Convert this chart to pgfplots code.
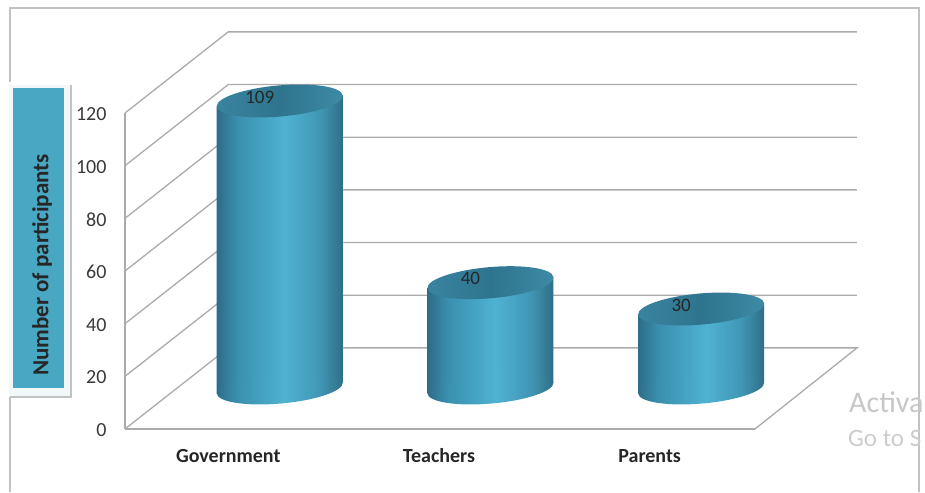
\documentclass[border=0pt]{standalone}
\usepackage{pgfplots}
\usepackage{pgfplotstable}
\usepackage{fontspec}
\setmainfont{Carlito}
\pgfplotsset{compat=1.18}

\definecolor{gridgray}{HTML}{ABABAB}
\definecolor{framegray}{HTML}{C2C2C2}
\definecolor{boxteal}{HTML}{48A8C4}
\definecolor{boxhalo}{HTML}{F2F8FA}
\definecolor{ticktext}{HTML}{3A3A3A}
\definecolor{sideA}{HTML}{2D6C88}
\definecolor{sideB}{HTML}{3A8FAE}
\definecolor{sideC}{HTML}{4FB2D1}
\definecolor{sideD}{HTML}{4096B4}
\definecolor{sideE}{HTML}{2F6E86}
\definecolor{lidA}{HTML}{3A84A0}
\definecolor{lidB}{HTML}{2E748E}
\definecolor{lidC}{HTML}{3E8AA5}

% colour stops sit between 25bp and 75bp, that part is fitted to the path
\pgfdeclarehorizontalshading{cylside}{100bp}{
  color(0bp)=(sideA);
  color(25bp)=(sideA);
  color(33bp)=(sideB);
  color(52bp)=(sideC);
  color(66bp)=(sideD);
  color(75bp)=(sideE);
  color(100bp)=(sideE)}
\pgfdeclarehorizontalshading{cyltop}{100bp}{
  color(0bp)=(lidA);
  color(25bp)=(lidA);
  color(50bp)=(lidB);
  color(75bp)=(lidC);
  color(100bp)=(lidC)}

\pgfdeclareplotmark{cylbase}{
  \pgfpathellipse{\pgfpointorigin}{\pgfqpoint{63pt}{5.5pt}}{\pgfqpoint{-1.3pt}{15.5pt}}
  \pgfshadepath{cylside}{0}
  \pgfusepath{discard}}
\pgfdeclareplotmark{cyllid}{
  \pgfpathellipse{\pgfpointorigin}{\pgfqpoint{63pt}{5.5pt}}{\pgfqpoint{-1.3pt}{15.5pt}}
  \pgfshadepath{cyltop}{0}
  \pgfusepath{discard}}

\pgfplotstableread{
cat val
0 109
1 40
2 30
}\participants

% one bar of a cylinder, slanted like the ellipses; #1 undoes the slant at its x
\pgfplotsset{cylbody/.style={ybar, bar width=126pt, bar shift=0pt, draw=none,
    shade, shading=cylside, yshift=#1, yslant=0.0873}}

\begin{document}
\begin{tikzpicture}
  \path[use as bounding box, clip] (0pt,0pt) rectangle (925pt,492pt);
  \fill[white] (0pt,0pt) rectangle (925pt,492pt);

  % page frame, left side is broken by the label box
  \draw[framegray, line width=1.5pt] (10pt,410pt) -- (10pt,484pt) -- (919pt,484pt) -- (919pt,0pt);
  \draw[framegray, line width=1.5pt] (10pt,95pt) -- (10pt,0pt);

  % label box
  \fill[boxhalo] (9pt,95pt) rectangle (71pt,407pt);
  \draw[framegray, line width=1.2pt] (10pt,95pt) -- (71pt,95pt) -- (71pt,407pt);
  \fill[boxteal] (13pt,104pt) rectangle (64pt,404pt);
  \node[rotate=90, font=\bfseries\fontsize{23}{26}\selectfont, text=black!85] at (42pt,227pt) {Number of participants};

  % front plane of the chart
  \begin{axis}[
      name=front,
      at={(125pt,63pt)}, anchor=south west,
      scale only axis,
      width=630pt, height=316pt,
      xmin=-0.49, xmax=2.5,
      ymin=0, ymax=120,
      clip=false,
      axis x line*=bottom,
      axis y line*=left,
      axis line style={gridgray, line width=1.5pt, -},
      major tick length=0pt,
      xtick={0,1,2},
      xticklabels={Government,Teachers,Parents},
      ytick={0,20,40,60,80,100,120},
      /pgf/number format/assume math mode=true,
      xticklabel style={font=\bfseries\fontsize{20}{24}\selectfont, text=black!85, anchor=center, yshift=-27pt},
      yticklabel style={font=\fontsize{20}{24}\selectfont, text=ticktext, anchor=east, xshift=-15pt, yshift=-1pt},
    ]
    % side wall and back wall
    \addplot[gridgray, line width=1.3pt] coordinates {(-0.49,0) (0,30.8) (2.984,30.8) (2.5,0)};
    \addplot[gridgray, line width=1.3pt] coordinates {(-0.49,20) (0,50.8) (2.984,50.8)};
    \addplot[gridgray, line width=1.3pt] coordinates {(-0.49,40) (0,70.8) (2.984,70.8)};
    \addplot[gridgray, line width=1.3pt] coordinates {(-0.49,60) (0,90.8) (2.984,90.8)};
    \addplot[gridgray, line width=1.3pt] coordinates {(-0.49,80) (0,110.8) (2.984,110.8)};
    \addplot[gridgray, line width=1.3pt] coordinates {(-0.49,100) (0,130.8) (2.984,130.8)};
    \addplot[gridgray, line width=1.3pt] coordinates {(-0.49,120) (0,150.8) (2.984,150.8)};
  \end{axis}

  % cylinders stand half way into the depth
  \begin{axis}[
      at={(176.5pt,104pt)}, anchor=south west,
      scale only axis,
      width=630pt, height=316pt,
      xmin=-0.49, xmax=2.5,
      ymin=0, ymax=120,
      clip=false,
      hide axis,
      /pgf/number format/assume math mode=true,
    ]
    % each bar on its own, else the shading runs over all three
    \addplot[cylbody=-9.0pt] coordinates {(0,109)};
    \addplot[cylbody=-27.4pt] coordinates {(1,40)};
    \addplot[cylbody=-45.8pt] coordinates {(2,30)};
    \addplot[only marks, mark=cylbase] table[x=cat, y expr=0] {\participants};
    \addplot[only marks, mark=cyllid,
      nodes near coords,
      point meta=y,
      every node near coord/.append style={anchor=center, xshift=-20pt, yshift=4pt,
        font=\fontsize{19}{22}\selectfont, text=black!85}]
      table[x=cat, y=val] {\participants};
  \end{axis}

  % watermark from the screenshot
  \node[anchor=west, text=black!22, font=\fontsize{30}{34}\selectfont, inner sep=0pt] at (849pt,90pt) {Activa};
  \node[anchor=west, text=black!20, font=\fontsize{25}{28}\selectfont, inner sep=0pt] at (848pt,54pt) {Go to S};
\end{tikzpicture}
\end{document}
